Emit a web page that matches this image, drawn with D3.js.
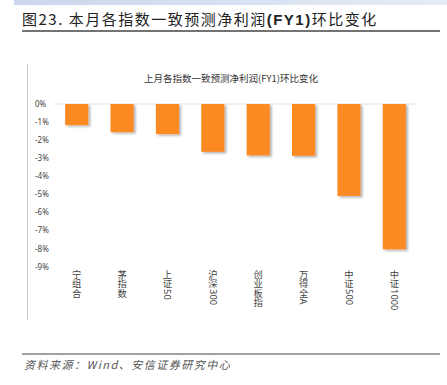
<!DOCTYPE html>
<html>
<head>
<meta charset="utf-8">
<script src="https://cdn.jsdelivr.net/npm/d3@7"></script>
<style>
  body { margin: 0; background: #fff; }
  svg { display: block; font-family: "Noto Sans CJK SC", "Noto Sans", sans-serif; }
</style>
</head>
<body>
<svg id="chart" width="447" height="385"></svg>
<script>
const categories = ['宁组合', '茅指数', '上证50', '沪深300', '创业板指', '万得全A', '中证500', '中证1000'];
const values = [-1.17, -1.56, -1.67, -2.65, -2.85, -2.87, -5.09, -8.05];
const yTicks = [0, -1, -2, -3, -4, -5, -6, -7, -8, -9];

const svg = d3.select('#chart');
const W = 447;
const defs = svg.append('defs');

// top band
const grad = defs.append('linearGradient').attr('id', 'band');
grad.append('stop').attr('offset', '0%').attr('stop-color', '#c9d6ec');
grad.append('stop').attr('offset', '100%').attr('stop-color', '#e6ecf6');
svg.append('rect').attr('x', 14).attr('y', 0).attr('width', W - 14).attr('height', 5).attr('fill', 'url(#band)');

// header
const head = svg.append('text').attr('x', 22).attr('y', 25)
  .attr('font-size', 15).attr('letter-spacing', 1.5).attr('fill', '#222');
head.append('tspan').text('图23. 本月各指数一致预测净利润');
head.append('tspan').attr('font-weight', 'bold').attr('font-family', '"Liberation Sans", Arial, sans-serif').text('(FY1)');
head.append('tspan').text('环比变化');
svg.append('line').attr('x1', 22).attr('x2', 440).attr('y1', 31).attr('y2', 31)
  .attr('stroke', '#444').attr('stroke-width', 1.6);

// frame line on the left
svg.append('line').attr('x1', 27.5).attr('x2', 27.5).attr('y1', 64).attr('y2', 320)
  .attr('stroke', '#c8c8c8').attr('stroke-width', 1);

// chart title
svg.append('text').attr('x', 231).attr('y', 82).attr('text-anchor', 'middle')
  .attr('font-size', 9.5).attr('fill', '#333')
  .text('上月各指数一致预测净利润(FY1)环比变化');

const x = d3.scaleBand().domain(categories).range([54, 417]).paddingInner(0.49).paddingOuter(0.245);
const y = d3.scaleLinear().domain([-9, 0]).range([266.5, 104]);

// zero gridline
svg.append('line').attr('x1', 54).attr('x2', 417).attr('y1', y(0)).attr('y2', y(0))
  .attr('stroke', '#e2e2e2').attr('stroke-width', 1);

// shadow filter
const f = defs.append('filter').attr('id', 'shadow')
  .attr('x', '-20%').attr('y', '-5%').attr('width', '150%').attr('height', '120%');
f.append('feDropShadow').attr('dx', 2).attr('dy', 1.5).attr('stdDeviation', 1)
  .attr('flood-color', '#000').attr('flood-opacity', 0.3);

svg.append('g').selectAll('rect').data(values).join('rect')
  .attr('x', (d, i) => x(categories[i]))
  .attr('y', y(0))
  .attr('width', x.bandwidth())
  .attr('height', d => y(d) - y(0))
  .attr('fill', '#fc8a24')
  .attr('filter', 'url(#shadow)');

// y axis labels
const yAxis = d3.axisLeft(y).tickValues(yTicks).tickSize(0).tickPadding(0)
  .tickFormat(d => d + '%');
svg.append('g').attr('transform', 'translate(35,0)').call(yAxis)
  .call(g => g.select('.domain').remove())
  .call(g => g.selectAll('text').attr('text-anchor', 'start').attr('x', 0)
    .attr('font-size', 8).attr('fill', '#444')
    .attr('font-family', '"Noto Sans", sans-serif'));

// category labels, vertical: CJK upright stacked, latin/digits turned 90deg
const fs = 9.3;
const labels = svg.append('g').attr('fill', '#444').attr('font-size', fs);
categories.forEach(c => {
  const cx = x(c) + x.bandwidth() / 2;
  const cjk = c.match(/^[\u4e00-\u9fff]+/)[0];
  const rest = c.slice(cjk.length);
  const t = labels.append('text').attr('text-anchor', 'middle');
  [...cjk].forEach((ch, i) => {
    t.append('tspan').attr('x', cx).attr('y', 270 + fs * 0.88 + i * fs).text(ch);
  });
  if (rest) {
    labels.append('text').attr('font-family', '"Noto Sans", sans-serif')
      .attr('transform', `translate(${cx - fs * 0.33},${270 + cjk.length * fs + 0.5}) rotate(90)`)
      .text(rest);
  }
});

// footer
svg.append('line').attr('x1', 22).attr('x2', 440).attr('y1', 354).attr('y2', 354)
  .attr('stroke', '#444').attr('stroke-width', 1.2);
svg.append('text').attr('x', 24).attr('y', 369)
  .attr('font-size', 11).attr('letter-spacing', 1.5).attr('font-style', 'italic').attr('fill', '#555')
  .text('资料来源：Wind、安信证券研究中心');
</script>
</body>
</html>
